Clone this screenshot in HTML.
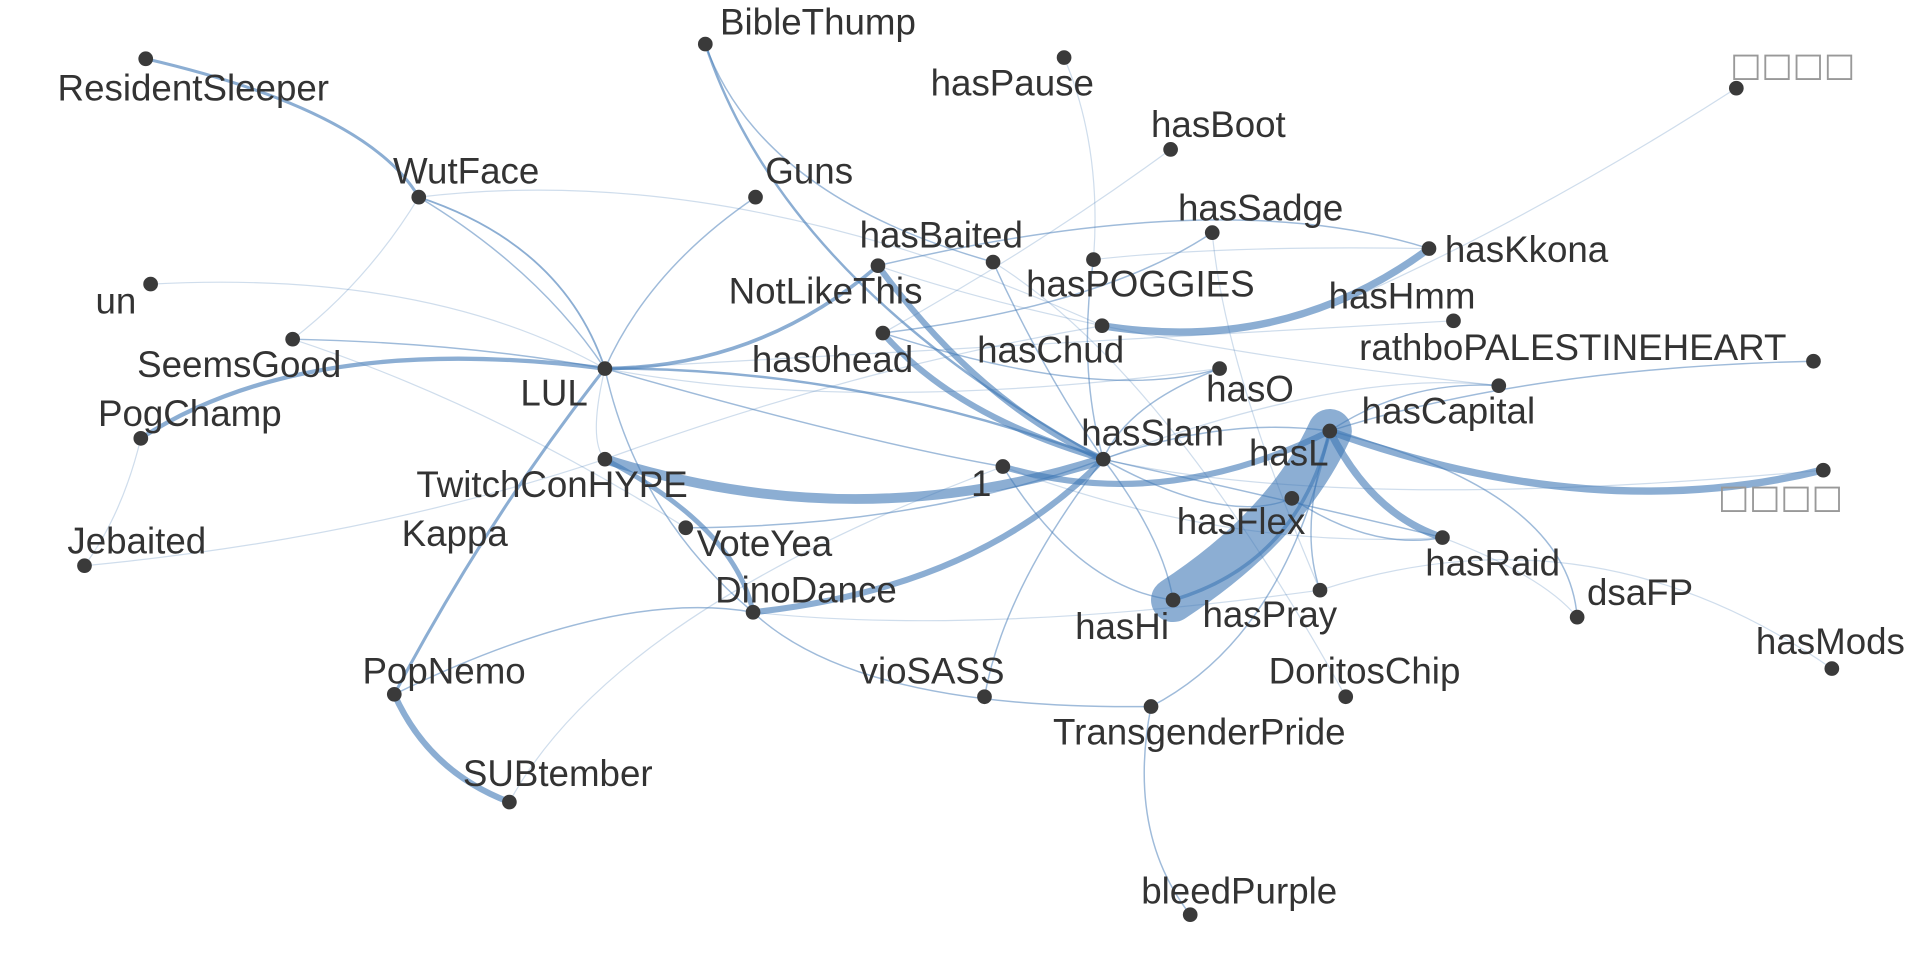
<!DOCTYPE html>
<html><head><meta charset="utf-8"><style>
html,body{margin:0;padding:0;background:#fff;width:1920px;height:960px;overflow:hidden}
svg{display:block}
text{font-family:"Liberation Sans",Arial,sans-serif;font-size:30px;fill:#333}
.b{fill:#999;font-family:"DejaVu Sans",sans-serif;font-size:27px}
</style></head><body>
<svg width="1920" height="960" viewBox="0 0 1568 784" xmlns="http://www.w3.org/2000/svg">
<g fill="none" stroke="#3f78b5" stroke-linecap="round">
<g stroke-opacity="0.25" stroke-width="1">
<path d="M1418 72 Q1250 180 1090 250"/>
<path d="M342 161 Q600 130 900 266"/>
<path d="M342 161 Q300 230 239 277"/>
<path d="M123 232 Q350 220 494 301"/>
<path d="M115 358 Q100 420 69 462"/>
<path d="M869 47 Q900 120 893 212"/>
<path d="M956 122 Q850 200 721 272"/>
<path d="M494 301 Q700 340 996 301"/>
<path d="M494 301 Q700 290 1187 262"/>
<path d="M494 375 Q700 300 900 266"/>
<path d="M69 462 Q300 440 494 375"/>
<path d="M416 655 Q500 500 819 381"/>
<path d="M615 500 Q800 520 1078 482"/>
<path d="M1078 482 Q1300 410 1496 546"/>
<path d="M1178 439 Q1260 470 1288 504"/>
<path d="M1224 315 Q1100 300 901 375"/>
<path d="M990 190 Q1000 300 1078 482"/>
<path d="M811 214 Q950 300 1099 569"/>
<path d="M239 277 Q400 330 560 431"/>
<path d="M494 301 Q480 360 494 375"/>
<path d="M717 217 Q900 280 1224 315"/>
<path d="M893 212 Q1000 200 1167 203"/>
<path d="M819 381 Q1000 450 1178 439"/>
<path d="M901 375 Q1100 420 1488 384"/>
</g>
<g stroke-opacity="0.5" stroke-width="1.2">
<path d="M342 161 Q440 220 494 301"/>
<path d="M617 161 Q530 220 494 301"/>
<path d="M494 301 Q520 420 615 500"/>
<path d="M239 277 Q380 280 494 301"/>
<path d="M494 301 Q700 360 819 381"/>
<path d="M717 217 Q1000 150 1167 203"/>
<path d="M721 272 Q900 330 996 301"/>
<path d="M811 214 Q850 300 901 375"/>
<path d="M893 212 Q880 300 901 375"/>
<path d="M990 190 Q900 250 721 272"/>
<path d="M901 375 Q1000 340 1086 352"/>
<path d="M901 375 Q950 440 958 490"/>
<path d="M901 375 Q1000 430 1055 407"/>
<path d="M901 375 Q1100 420 1178 439"/>
<path d="M901 375 Q820 480 804 569"/>
<path d="M560 431 Q750 430 901 375"/>
<path d="M615 500 Q700 580 940 577"/>
<path d="M940 577 Q1050 520 1086 352"/>
<path d="M940 577 Q920 680 972 747"/>
<path d="M1086 352 Q1250 300 1481 295"/>
<path d="M1086 352 Q1150 310 1224 315"/>
<path d="M1086 352 Q1280 400 1288 504"/>
<path d="M1055 407 Q1120 450 1178 439"/>
<path d="M819 381 Q880 480 958 490"/>
<path d="M1086 352 Q1060 430 1078 482"/>
<path d="M996 301 Q920 330 901 375"/>
<path d="M576 36 Q620 160 811 214"/>
<path d="M322 567 Q500 480 615 500"/>
</g>
<g stroke-opacity="0.6">
<path d="M119 48 Q300 90 342 161 " stroke-width="2.5"/>
<path d="M342 161 Q460 200 494 301" stroke-width="1.5"/>
<path d="M576 36 Q640 230 901 375" stroke-width="2"/>
<path d="M115 358 Q250 270 494 301" stroke-width="3.5"/>
<path d="M494 301 Q620 300 717 217" stroke-width="3"/>
<path d="M494 301 Q700 300 901 375" stroke-width="2"/>
<path d="M494 301 Q400 420 322 567" stroke-width="2.5"/>
<path d="M322 567 Q350 630 416 655" stroke-width="5"/>
</g>
<g stroke-opacity="0.6">
<path d="M494 375 Q700 440 901 375" stroke-width="8"/>
<path d="M494 375 Q600 430 615 500" stroke-width="4"/>
<path d="M717 217 Q800 330 901 375" stroke-width="5"/>
<path d="M721 272 Q780 340 901 375" stroke-width="5"/>
<path d="M615 500 Q800 480 901 375" stroke-width="5"/>
<path d="M819 381 Q950 420 1086 352" stroke-width="5"/>
<path d="M900 266 Q1050 290 1167 203" stroke-width="6"/>
<path d="M1086 352 Q1300 430 1488 384" stroke-width="6"/>
<path d="M1086 352 Q1120 420 1178 439" stroke-width="6"/>
<path d="M958 490 Q1060 460 1086 352" stroke-width="3"/>
</g>
<path d="M958 490 Q1050 430 1086 352" stroke-width="36" stroke-opacity="0.6"/>
</g>
<g fill="#3a3a3a">
<circle cx="119" cy="48" r="6"/><circle cx="576" cy="36" r="6"/><circle cx="869" cy="47" r="6"/>
<circle cx="1418" cy="72" r="6"/><circle cx="956" cy="122" r="6"/><circle cx="342" cy="161" r="6"/>
<circle cx="617" cy="161" r="6"/><circle cx="990" cy="190" r="6"/><circle cx="1167" cy="203" r="6"/>
<circle cx="717" cy="217" r="6"/><circle cx="811" cy="214" r="6"/><circle cx="893" cy="212" r="6"/>
<circle cx="123" cy="232" r="6"/><circle cx="1187" cy="262" r="6"/><circle cx="721" cy="272" r="6"/>
<circle cx="900" cy="266" r="6"/><circle cx="239" cy="277" r="6"/><circle cx="494" cy="301" r="6"/>
<circle cx="1481" cy="295" r="6"/><circle cx="996" cy="301" r="6"/><circle cx="1224" cy="315" r="6"/>
<circle cx="115" cy="358" r="6"/><circle cx="1086" cy="352" r="6"/><circle cx="901" cy="375" r="6"/>
<circle cx="1055" cy="407" r="6"/><circle cx="819" cy="381" r="6"/><circle cx="494" cy="375" r="6"/>
<circle cx="1489" cy="384" r="6"/><circle cx="560" cy="431" r="6"/><circle cx="1178" cy="439" r="6"/>
<circle cx="69" cy="462" r="6"/><circle cx="1078" cy="482" r="6"/><circle cx="958" cy="490" r="6"/>
<circle cx="615" cy="500" r="6"/><circle cx="1288" cy="504" r="6"/><circle cx="1496" cy="546" r="6"/>
<circle cx="322" cy="567" r="6"/><circle cx="804" cy="569" r="6"/><circle cx="1099" cy="569" r="6"/>
<circle cx="940" cy="577" r="6"/><circle cx="416" cy="655" r="6"/><circle cx="972" cy="747" r="6"/>
</g>
<text x="47" y="82">ResidentSleeper</text>
<text x="588" y="28">BibleThump</text>
<text x="760" y="78">hasPause</text>
<text class="b" x="1413" y="62">□□□□</text>
<text x="940" y="112">hasBoot</text>
<text x="321" y="150">WutFace</text>
<text x="625" y="150">Guns</text>
<text x="962" y="180">hasSadge</text>
<text x="1180" y="214">hasKkona</text>
<text x="702" y="202">hasBaited</text>
<text x="595" y="248">NotLikeThis</text>
<text x="838" y="242">hasPOGGIES</text>
<text x="78" y="256">un</text>
<text x="1085" y="252">hasHmm</text>
<text x="614" y="304">has0head</text>
<text x="798" y="296">hasChud</text>
<text x="112" y="308">SeemsGood</text>
<text x="425" y="331">LUL</text>
<text x="1110" y="294">rathboPALESTINEHEART</text>
<text x="985" y="328">hasO</text>
<text x="80" y="348">PogChamp</text>
<text x="1112" y="346">hasCapital</text>
<text x="883" y="364">hasSlam</text>
<text x="1020" y="380">hasL</text>
<text x="793" y="405">1</text>
<text x="340" y="406">TwitchConHYPE</text>
<text class="b" x="1403" y="415">□□□□</text>
<text x="328" y="446">Kappa</text>
<text x="569" y="454">VoteYea</text>
<text x="961" y="436">hasFlex</text>
<text x="1164" y="470">hasRaid</text>
<text x="55" y="452">Jebaited</text>
<text x="982" y="512">hasPray</text>
<text x="878" y="522">hasHi</text>
<text x="584" y="492">DinoDance</text>
<text x="1296" y="494">dsaFP</text>
<text x="1434" y="534">hasMods</text>
<text x="296" y="558">PopNemo</text>
<text x="702" y="558">vioSASS</text>
<text x="1036" y="558">DoritosChip</text>
<text x="860" y="608">TransgenderPride</text>
<text x="378" y="642">SUBtember</text>
<text x="932" y="738">bleedPurple</text>
</svg>
</body></html>
